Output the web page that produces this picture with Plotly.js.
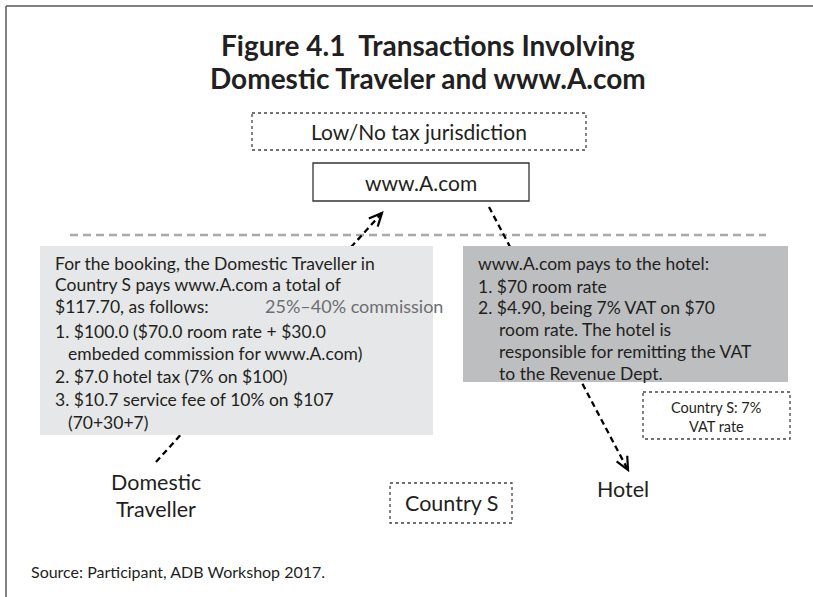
<!DOCTYPE html>
<html><head><meta charset="utf-8">
<script src="https://cdn.plot.ly/plotly-3.0.1.min.js"></script>
<style>html,body{margin:0;padding:0;background:#fff}</style>
</head><body><div id="chart" style="width:813px;height:597px"></div>
<script>
// ---- content ----
const titleLines = ["Figure 4.1  Transactions Involving", "Domestic Traveler and www.A.com"];
const jurisdictionLabel = "Low/No tax jurisdiction";
const platformLabel = "www.A.com";
const travellerLabel = ["Domestic", "Traveller"];
const hotelLabel = "Hotel";
const countryLabel = "Country S";
const vatNote = ["Country S: 7%", "VAT rate"];
const commissionNote = "25%–40% commission";
const travellerIntro = ["For the booking, the Domestic Traveller in", "Country S pays www.A.com a total of", "$117.70, as follows:"];
const travellerItems = ["1. $100.0 ($70.0 room rate + $30.0", "   embeded commission for www.A.com)", "2. $7.0 hotel tax (7% on $100)", "3. $10.7 service fee of 10% on $107", "   (70+30+7)"];
const hotelIntro = ["www.A.com pays to the hotel:"];
const hotelItems = ["1. $70 room rate", "2. $4.90, being 7% VAT on $70", "   room rate. The hotel is", "   responsible for remitting the VAT", "   to the Revenue Dept."];
const sourceNote = "Source: Participant, ADB Workshop 2017.";

// ---- drawing ----
const INK = "#231f20";
const BODY = "Lato, 'Open Sans', sans-serif";
const shapes = [];
const ann = [];

function text(t, x, y, size, opts) {
  opts = opts || {};
  ann.push({x: x, y: y, xref: "x", yref: "y", text: t, showarrow: false,
    xanchor: opts.anchor || "center", yanchor: "middle",
    font: {family: opts.family || BODY, size: size, color: opts.color || INK, weight: opts.weight || 400}});
}
function rect(x0, y0, x1, y1, line, fill) {
  shapes.push({type: "rect", xref: "x", yref: "y", x0: x0, y0: y0, x1: x1, y1: y1,
    line: line, fillcolor: fill || "rgba(0,0,0,0)", layer: "above"});
}
function seg(x0, y0, x1, y1, line) {
  shapes.push({type: "line", xref: "x", yref: "y", x0: x0, y0: y0, x1: x1, y1: y1, line: line, layer: "above"});
}
function head(fx, fy, tx, ty) {
  const dx = tx - fx, dy = ty - fy, L = Math.hypot(dx, dy);
  const ux = dx / L, uy = dy / L, len = 13, w = 6;
  const bx = tx - ux * len, by = ty - uy * len;
  const p1 = [bx - uy * w, by + ux * w], p2 = [bx + uy * w, by - ux * w];
  shapes.push({type: "path", xref: "x", yref: "y", layer: "above",
    path: `M${p1[0]},${p1[1]} L${tx},${ty} L${p2[0]},${p2[1]}`,
    line: {color: "#000", width: 2.2}});
}

// frame (top & left)
seg(6, 6, 813, 6, {color: "#58595b", width: 1.5});
seg(6, 6, 6, 597, {color: "#58595b", width: 1.5});

// title
titleLines.forEach((t, i) => text("<b>" + t + "</b>", 428, 45 + i * 33, 28, {family: "Lato, sans-serif", weight: 800}));

// top boxes
rect(252, 113, 586, 150, {color: "#444", width: 1.3, dash: "dot"});
text(jurisdictionLabel, 419, 131, 21);
rect(313, 163, 529, 201, {color: "#333", width: 1.3});
text(platformLabel, 421, 182, 21);

// boundary dashed line
seg(70, 235, 766, 235, {color: "#a7a9ac", width: 2.5, dash: "8px,5px"});

// dashed arrows (drawn before boxes so boxes hide the middle)
const arrowA = [156, 462, 382, 213];
const arrowB = [489, 207, 628, 470];
seg(arrowA[0], arrowA[1], arrowA[2], arrowA[3], {color: "#000", width: 2.3, dash: "6px,4px"});
seg(arrowB[0], arrowB[1], arrowB[2], arrowB[3], {color: "#000", width: 2.3, dash: "6px,4px"});
head(arrowA[0], arrowA[1], arrowA[2], arrowA[3]);
head(arrowB[0], arrowB[1], arrowB[2], arrowB[3]);

// grey boxes
rect(40, 246, 433, 435, {width: 0}, "#e6e7e8");
rect(463, 246, 788, 382, {width: 0}, "#bcbec0");

// left box text
travellerIntro.forEach((t, i) => text(t, 53, 263 + i * 21.5, 17.5, {anchor: "left"}));
text(commissionNote, 263, 306, 18, {anchor: "left", color: "#6d6e71"});
travellerItems.forEach((t, i) => {
  const ind = t.startsWith("   ");
  text(t.trim(), ind ? 66 : 53, 331 + i * 22.8, 17.5, {anchor: "left"});
});

// right box text
hotelIntro.forEach((t, i) => text(t, 476, 263, 17.5, {anchor: "left"}));
hotelItems.forEach((t, i) => {
  const ind = t.startsWith("   ");
  text(t.trim(), ind ? 497 : 476, 286 + i * 21.8, 17.5, {anchor: "left"});
});

// VAT note
rect(643, 392, 790, 439, {color: "#444", width: 1.3, dash: "dot"});
vatNote.forEach((t, i) => text(t, 716, 407 + i * 19, 14.5));

// bottom labels
travellerLabel.forEach((t, i) => text(t, 156, 482 + i * 27, 21.5));
text(hotelLabel, 623, 489, 21.5);
rect(390, 483, 512, 523, {color: "#444", width: 1.3, dash: "dot"});
text(countryLabel, 451, 503, 21.5);

// source
text(sourceNote, 29, 571, 16, {anchor: "left"});

const layout = {
  width: 813, height: 597, margin: {l: 0, r: 0, t: 0, b: 0},
  paper_bgcolor: "#fff", plot_bgcolor: "#fff", showlegend: false,
  xaxis: {range: [0, 813], visible: false, fixedrange: true},
  yaxis: {range: [597, 0], visible: false, fixedrange: true},
  shapes: shapes, annotations: ann
};
Plotly.newPlot("chart", [{x: [], y: [], type: "scatter"}], layout, {staticPlot: true, displayModeBar: false});
</script></body></html>
